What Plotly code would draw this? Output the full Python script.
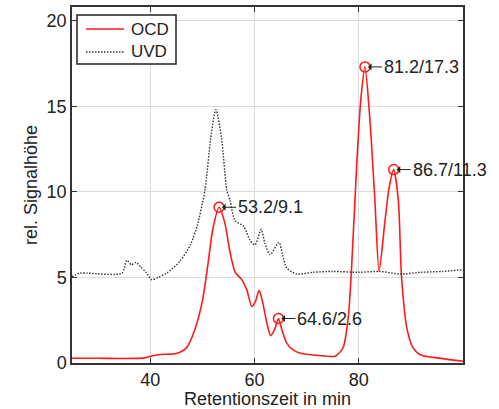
import plotly.graph_objects as go

# OCD (red) trace
ocd_x = [25, 30, 35, 39, 40.5, 42, 45, 47, 48.5, 50, 51, 52, 53.2, 54.3, 55.3, 56.3, 57.5, 58.5,
         59.5, 60.2, 60.9, 61.6, 62.4, 63.1, 63.8, 64.6, 65.3, 66.2, 67.5, 69, 72, 75.5, 77, 78,
         78.6, 79.6, 80.4, 81.2, 82.1, 83.1, 83.9, 85, 85.8, 86.7, 87.6, 88.2, 89.2, 90.4, 92, 95, 100]
ocd_y = [0.28, 0.28, 0.26, 0.3, 0.42, 0.5, 0.55, 0.9, 1.9, 3.6, 5.6, 7.8, 9.1, 8.2, 6.5, 5.3, 4.9, 4.3,
         3.3, 3.6, 4.25, 3.5, 2.3, 1.6, 1.9, 2.6, 1.9, 1.15, 0.75, 0.55, 0.45, 0.4, 0.9, 2.7,
         5.4, 11.5, 15.4, 17.3, 14.4, 9.5, 5.35, 8.2, 10.2, 11.3, 9.5, 5.1, 2.1, 0.9, 0.45, 0.3, 0.1]

# UVD (black dotted) trace
uvd_x = [25, 26.5, 28, 34.6, 35.5, 36.4, 37.3, 38.2, 39.2, 40.3, 41.5, 43.2, 45.7, 47.7, 49, 50.5,
         51.6, 52.6, 53.7, 54.7, 55.3, 56.3, 57.9, 59.1, 60.1, 61.3, 62.0, 63, 64.7, 65.4, 66.2,
         68.1, 71.2, 75, 80, 84, 88, 92, 96, 100]
uvd_y = [5.05, 5.25, 5.25, 5.25, 6.0, 5.74, 5.88, 5.6, 5.3, 4.87, 5.0, 5.26, 5.94, 6.9, 8.0, 10.1,
         13.1, 14.8, 13.1, 10.1, 9.5, 8.3, 8.0, 7.2, 6.9, 7.8, 7.0, 6.33, 7.05, 6.3, 5.55,
         5.2, 5.3, 5.35, 5.3, 5.35, 5.2, 5.3, 5.35, 5.45]

# Labelled peaks
peak_x = [53.2, 64.6, 81.2, 86.7]
peak_y = [9.1, 2.6, 17.3, 11.3]
peak_labels = ["53.2/9.1", "64.6/2.6", "81.2/17.3", "86.7/11.3"]

x_ticks = [40, 60, 80]
y_ticks = [0, 5, 10, 15, 20]

series_names = ["OCD", "UVD"]

FONT = "Liberation Sans, Arial, sans-serif"
TXT = "#222222"
RED = "#ff1a1a"
UVD_COLOR = "#333333"
UVD_DASH = "1.5px,1.5px"

fig = go.Figure()
fig.add_trace(go.Scatter(x=ocd_x, y=ocd_y, mode="lines", name=series_names[0], showlegend=False,
                         line=dict(color=RED, width=1.6, shape="spline", smoothing=0.7)))
fig.add_trace(go.Scatter(x=uvd_x, y=uvd_y, mode="lines", name=series_names[1], showlegend=False,
                         line=dict(color=UVD_COLOR, width=1.4, dash=UVD_DASH,
                                   shape="spline", smoothing=0.7)))
fig.add_trace(go.Scatter(x=peak_x, y=peak_y, mode="markers", showlegend=False,
                         marker=dict(symbol="circle-open", size=10, color=RED,
                                     line=dict(width=1.5, color=RED))))

for px, py, lab in zip(peak_x, peak_y, peak_labels):
    fig.add_annotation(x=px, y=py, text=lab, showarrow=True, ax=17, ay=0,
                       xanchor="left", yanchor="middle", arrowhead=1, arrowsize=1.2,
                       arrowwidth=1, arrowcolor=TXT, standoff=3,
                       font=dict(family=FONT, size=18, color=TXT))

# Legend box (drawn in paper coordinates, top-left inside the plot)
fig.add_shape(type="rect", xref="paper", yref="paper", x0=0.0128, x1=0.266, y0=0.840, y1=0.9775,
              line=dict(color=TXT, width=1.5), fillcolor="white", layer="above")
legend_rows = [(0.9382, dict(color=RED, width=1.6)),
               (0.8736, dict(color=UVD_COLOR, width=1.4, dash=UVD_DASH))]
for name, (ly, lstyle) in zip(series_names, legend_rows):
    fig.add_shape(type="line", xref="paper", yref="paper", x0=0.0358, x1=0.133, y0=ly, y1=ly,
                  line=lstyle, layer="above")
    fig.add_annotation(xref="paper", yref="paper", x=0.1458, y=ly, text=name, showarrow=False,
                       xanchor="left", yanchor="middle",
                       font=dict(family=FONT, size=17, color=TXT))

axis_common = dict(showline=True, linecolor="#333333", linewidth=1.5, mirror="ticks",
                   ticks="inside", ticklen=5, tickcolor="#333333", automargin=False,
                   showgrid=True, gridcolor="#dcdcdc", gridwidth=1, zeroline=False,
                   tickfont=dict(family=FONT, size=18, color=TXT))

fig.update_xaxes(range=[25, 100], tickvals=x_ticks,
                 title=dict(text="Retentionszeit in min", font=dict(family=FONT, size=18, color=TXT),
                            standoff=2),
                 **axis_common)
fig.update_yaxes(range=[0, 20.8], tickvals=y_ticks,
                 title=dict(text="rel. Signalhöhe", font=dict(family=FONT, size=18, color=TXT),
                            standoff=4),
                 **axis_common)

fig.update_layout(
    width=499, height=409,
    margin=dict(l=72, r=36, t=7, b=46),
    paper_bgcolor="white", plot_bgcolor="white",
    showlegend=False,
)

fig.write_html("out.html", config={"displayModeBar": False},
               post_script="document.body.style.margin='0px';document.body.style.overflow='hidden';")
